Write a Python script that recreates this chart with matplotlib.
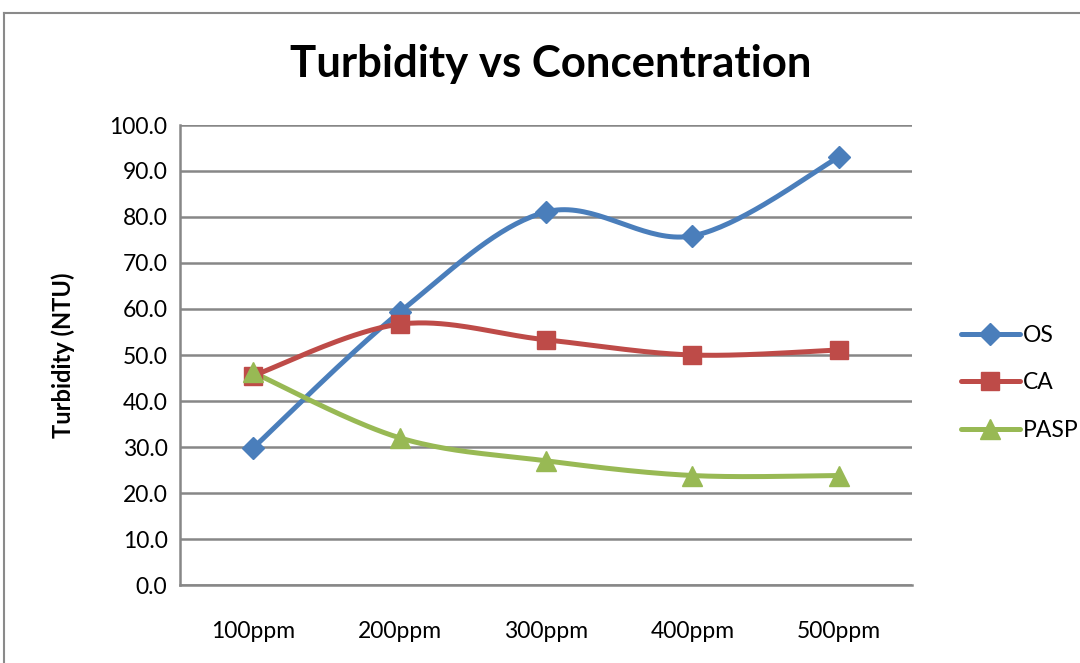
import numpy as np
import matplotlib
matplotlib.use("Agg")
import matplotlib.pyplot as plt
from matplotlib.lines import Line2D

plt.rcParams['font.family'] = ['Lato', 'DejaVu Sans']

# turbidity readings per dosage
categories = ['100ppm', '200ppm', '300ppm', '400ppm', '500ppm']
os_vals = [29.8, 59.3, 81.1, 75.9, 93.0]
ca_vals = [45.5, 56.7, 53.3, 50.0, 51.1]
pasp_vals = [46.2, 32.0, 27.0, 23.8, 23.8]
y_ticks = [0, 10, 20, 30, 40, 50, 60, 70, 80, 90, 100]


def smooth(x, y, n=40):
    # cubic bezier through the points, control points from neighbours (excel-like smoothing)
    x = np.asarray(x, float)
    y = np.asarray(y, float)
    pts = np.column_stack([x, y])
    p = np.vstack([pts[0], pts, pts[-1]])
    out = []
    t = np.linspace(0, 1, n)[:, None]
    for i in range(1, len(p) - 2):
        p0, p1, p2, p3 = p[i - 1], p[i], p[i + 1], p[i + 2]
        b1 = p1 + (p2 - p0) / 6
        b2 = p2 - (p3 - p1) / 6
        seg = ((1 - t) ** 3) * p1 + 3 * ((1 - t) ** 2) * t * b1 + 3 * (1 - t) * t ** 2 * b2 + t ** 3 * p2
        out.append(seg if i == 1 else seg[1:])
    out = np.vstack(out)
    return out[:, 0], out[:, 1]


fig = plt.figure(figsize=(10.8, 6.63), dpi=100)
ax = fig.add_axes([180 / 1080, 78 / 663, 732 / 1080, 460 / 663])

xs = np.arange(len(categories))
series = [
    ('OS', os_vals, '#4A7EBB', 'D', 11),
    ('CA', ca_vals, '#BE4B48', 's', 13),
    ('PASP', pasp_vals, '#98B954', '^', 14),
]
handles = []
for name, vals, col, mk, ms in series:
    sx, sy = smooth(xs, vals)
    ax.plot(sx, sy, color=col, lw=3.6, solid_capstyle='round', zorder=3)
    ax.plot(xs, vals, ls='none', marker=mk, ms=ms, color=col, zorder=4)
    handles.append(Line2D([], [], color=col, lw=3.6, marker=mk, ms=ms, solid_capstyle='round'))

ax.set_xlim(-0.5, len(categories) - 0.5)
ax.set_ylim(0, 100)
ax.set_yticks(y_ticks)
ax.set_yticklabels([f'{v:.1f}' for v in y_ticks], fontsize=16.5)
ax.set_xticks(xs)
ax.set_xticklabels(categories, fontsize=16.5)
ax.tick_params(length=0, pad=9)
ax.tick_params(axis='x', pad=26)
ax.yaxis.grid(True, color='#878787', lw=1.8)
ax.set_axisbelow(True)
for s in ['top', 'right']:
    ax.spines[s].set_visible(False)
for s in ['left', 'bottom']:
    ax.spines[s].set_color('#878787')
    ax.spines[s].set_linewidth(1.8)

ax.set_ylabel('Turbidity (NTU)', fontsize=17, fontweight='bold', labelpad=25)
fig.text(551 / 1080, 1 - 64 / 663, 'Turbidity vs Concentration', fontsize=31.5,
         fontweight='bold', ha='center', va='center')

fig.legend(handles, [s[0] for s in series], loc='center left',
           bbox_to_anchor=(940 / 1080, 1 - 383 / 663), frameon=False,
           fontsize=16.5, handlelength=2.6, labelspacing=1.15, handletextpad=0.1)

# outer chart frame
fig.add_artist(Line2D([4 / 1080, 4 / 1080], [0, 1 - 13 / 663], color='#8a8a8a', lw=1.5))
fig.add_artist(Line2D([4 / 1080, 1], [1 - 13 / 663, 1 - 13 / 663], color='#8a8a8a', lw=1.5))

fig.savefig('out.png', dpi=100)
